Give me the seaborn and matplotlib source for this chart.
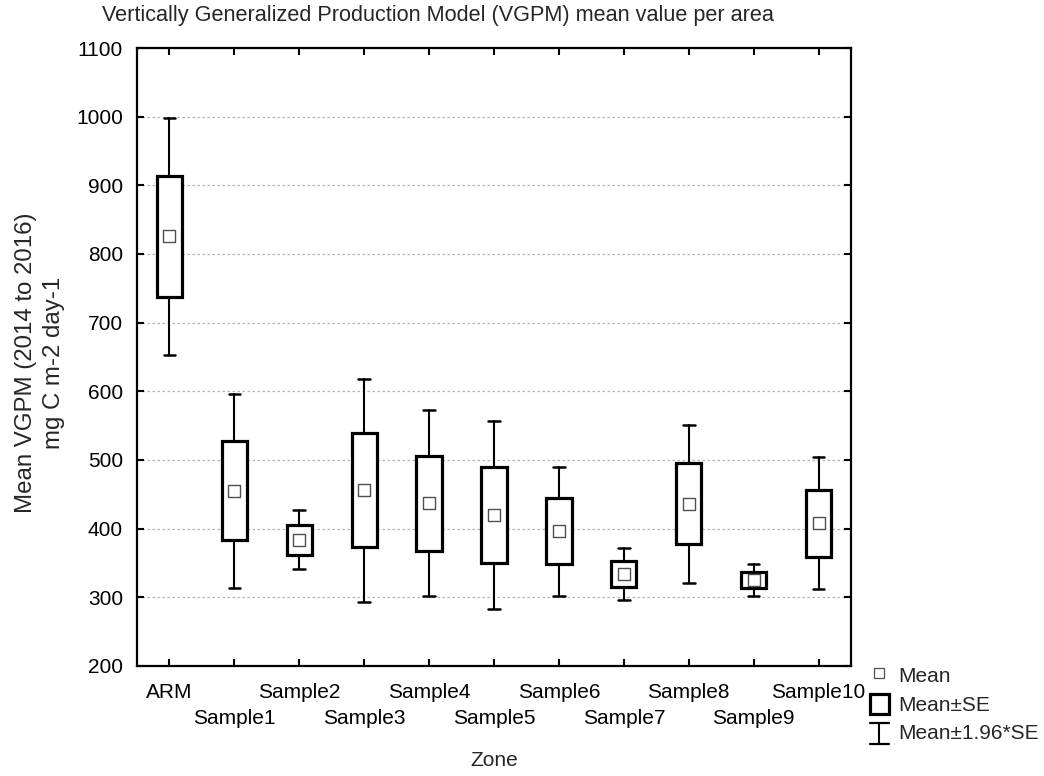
import matplotlib
matplotlib.use("Agg")
import numpy as np
import pandas as pd
import seaborn as sns
import matplotlib.pyplot as plt
from matplotlib.legend_handler import HandlerBase
from matplotlib.lines import Line2D
from matplotlib.patches import Rectangle

# ---- data ----
zones = ["ARM", "Sample1", "Sample2", "Sample3", "Sample4", "Sample5",
         "Sample6", "Sample7", "Sample8", "Sample9", "Sample10"]
means = [826, 455, 384, 456, 437, 420, 396, 334, 436, 325, 408]
ses = [88, 72, 22, 83, 69, 70, 48, 19, 59, 12, 49]
yticks = [200, 300, 400, 500, 600, 700, 800, 900, 1000, 1100]

title = "Vertically Generalized Production Model (VGPM) mean value per area"
ylabel = "Mean VGPM (2014 to 2016)\nmg C m-2 day-1"
xlabel = "Zone"
legend_labels = ["Mean", "Mean\u00b1SE", "Mean\u00b11.96*SE"]

df = pd.DataFrame({"zone": zones, "mean": means, "se": ses})
df["pos"] = np.arange(len(df))

sns.set_theme(style="white")
plt.rcParams["font.family"] = ["Liberation Sans", "DejaVu Sans"]
FS = 15

fig = plt.figure(figsize=(10.44, 7.76), dpi=100)
ax = fig.add_axes([137 / 1044, 1 - 666 / 776, (851 - 137) / 1044, (666 - 48) / 776])

stats = []
for z, m, s in zip(df["zone"], df["mean"], df["se"]):
    stats.append(dict(med=m, q1=m - s, q3=m + s,
                      whislo=m - 1.96 * s, whishi=m + 1.96 * s,
                      fliers=[], label=z))

ax.bxp(stats, positions=df["pos"].tolist(), widths=0.39, capwidths=0.18,
       patch_artist=True, showfliers=False, manage_ticks=False,
       boxprops=dict(facecolor="white", edgecolor="black", linewidth=2.3),
       whiskerprops=dict(color="black", linewidth=1.5),
       capprops=dict(color="black", linewidth=1.8),
       medianprops=dict(linewidth=0, color="none"), zorder=3)

sns.scatterplot(data=df, x="pos", y="mean", marker="s", s=68,
                facecolor="white", edgecolor="#505050", linewidth=1.0,
                ax=ax, zorder=5, legend=False)

ax.set_xlim(-0.5, len(zones) - 0.5)
ax.set_ylim(200, 1100)
ax.set_yticks(yticks)
ax.set_xticks(df["pos"].tolist())
ax.set_xticklabels(zones)
ax.set_xlabel("")
ax.set_ylabel("")

for sp in ax.spines.values():
    sp.set_visible(True)
    sp.set_color("black")
    sp.set_linewidth(1.6)

ax.tick_params(axis="both", direction="in", top=True, right=True, bottom=True,
               left=True, length=5, width=1.5, color="black",
               labelsize=FS, labelcolor="black")
ax.tick_params(axis="y", pad=10)
ax.tick_params(axis="x", pad=12)
for i, t in enumerate(ax.xaxis.get_major_ticks()):
    if i % 2 == 1:
        t.set_pad(31)

ax.yaxis.grid(True, linestyle=(0, (2, 2)), color="#b4b4b4", linewidth=0.9)
ax.xaxis.grid(False)
ax.set_axisbelow(True)

fig.text(102 / 1044, 1 - 15 / 776, title, ha="left", va="center", fontsize=15.6)
fig.text(40 / 1044, 1 - 363 / 776, ylabel, ha="center", va="center",
         rotation=90, fontsize=17.3, multialignment="center", linespacing=1.3)
fig.text(494 / 1044, 1 - 760 / 776, xlabel, ha="center", va="center", fontsize=FS)


class IBarHandler(HandlerBase):
    def create_artists(self, legend, orig_handle, xdescent, ydescent,
                       width, height, fontsize, trans):
        cx = -xdescent + width / 2
        y0 = -ydescent - 0.25 * height
        y1 = -ydescent + 1.05 * height
        hw = width / 2
        lines = [
            Line2D([cx, cx], [y0, y1], color="black", lw=1.5, transform=trans),
            Line2D([cx - hw, cx + hw], [y0, y0], color="black", lw=1.6, transform=trans),
            Line2D([cx - hw, cx + hw], [y1, y1], color="black", lw=1.6, transform=trans),
        ]
        return lines


class BoxHandler(HandlerBase):
    def create_artists(self, legend, orig_handle, xdescent, ydescent,
                       width, height, fontsize, trans):
        r = Rectangle((-xdescent, -ydescent - 0.15 * height), width, height * 1.25,
                      facecolor="white", edgecolor="black", lw=2.3, transform=trans)
        return [r]


class MeanHandler(HandlerBase):
    def create_artists(self, legend, orig_handle, xdescent, ydescent,
                       width, height, fontsize, trans):
        m = Line2D([-xdescent + width / 2], [-ydescent + height * 0.65], marker="s",
                   markersize=7, markerfacecolor="white", markeredgecolor="#505050",
                   markeredgewidth=0.9, ls="none", transform=trans)
        return [m]


h_mean = Line2D([], [])
h_box = Rectangle((0, 0), 1, 1)
h_bar = Line2D([], [], lw=2)
fig.legend([h_mean, h_box, h_bar], legend_labels,
           handler_map={h_mean: MeanHandler(), h_box: BoxHandler(), h_bar: IBarHandler()},
           loc="upper left", bbox_to_anchor=(870 / 1044, 1 - 667 / 776),
           frameon=False, fontsize=FS, handlelength=0.9, handleheight=0.8,
           handletextpad=0.45, labelspacing=0.45, borderpad=0, borderaxespad=0)

fig.savefig("out.png", dpi=100)
